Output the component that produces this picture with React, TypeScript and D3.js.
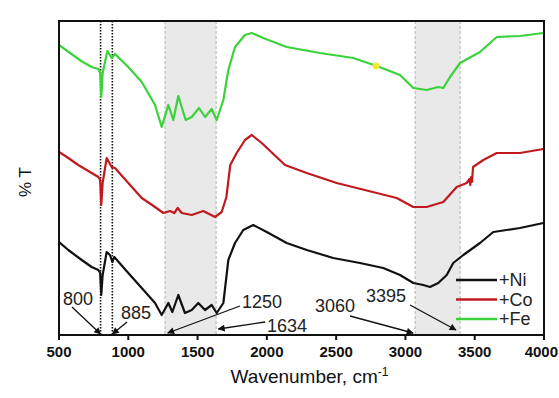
import React from "react";
import * as d3 from "d3";

// FTIR spectra (wavenumber, relative transmittance in arbitrary offset units)
const niSpectrum: [number, number][] = [
  [500, 93], [567, 85], [664, 75], [736, 68], [784, 65], [797, 62], [805, 40], [815, 60],
  [844, 83], [868, 80], [885, 73], [899, 78], [1000, 62], [1097, 47], [1193, 32], [1241, 20],
  [1289, 32], [1318, 23], [1361, 40], [1409, 22], [1458, 25], [1505, 32], [1554, 25],
  [1602, 30], [1638, 22], [1686, 32], [1697, 45], [1722, 75], [1770, 92], [1830, 105],
  [1902, 110], [1999, 103], [2143, 92], [2288, 85], [2479, 77], [2672, 72], [2840, 67],
  [2961, 60], [3057, 52], [3129, 50], [3177, 48], [3237, 52], [3298, 60], [3345, 72],
  [3418, 80], [3538, 92], [3634, 103], [3827, 107], [3995, 112],
];
const coSpectrum: [number, number][] = [
  [500, 183], [567, 177], [639, 170], [736, 162], [784, 158], [797, 155], [805, 130], [815, 152],
  [844, 177], [880, 168], [904, 167], [1000, 152], [1097, 137], [1193, 128], [1253, 122],
  [1301, 124], [1332, 122], [1357, 127], [1385, 122], [1458, 120], [1541, 124], [1626, 118],
  [1674, 123], [1708, 138], [1736, 170], [1782, 182], [1842, 195], [1891, 200], [1963, 192],
  [2131, 170], [2288, 162], [2504, 152], [2793, 142], [2937, 137], [3057, 128], [3153, 128],
  [3273, 133], [3370, 148], [3442, 152], [3462, 156], [3468, 150], [3474, 158], [3480, 153],
  [3488, 168], [3562, 175], [3659, 182], [3827, 182], [3995, 186],
];
const feSpectrum: [number, number][] = [
  [500, 290], [580, 282], [660, 274], [736, 268], [784, 266], [797, 262], [805, 238], [815, 262],
  [849, 284], [880, 277], [904, 281], [1000, 268], [1097, 253], [1193, 230], [1241, 208],
  [1289, 230], [1325, 215], [1361, 239], [1414, 215], [1458, 218], [1510, 227], [1554, 218],
  [1602, 226], [1638, 215], [1686, 235], [1722, 265], [1770, 288], [1842, 300], [1891, 302],
  [1974, 297], [2143, 288], [2383, 282], [2624, 277], [2793, 269], [2961, 260], [3057, 247],
  [3153, 245], [3237, 248], [3273, 247], [3322, 258], [3394, 272], [3538, 283], [3659, 298],
  [3827, 299], [3995, 302],
];

const seriesNames = ["+Ni", "+Co", "+Fe"];
const seriesColors = ["#111111", "#c01a1f", "#3bd23b"];
const seriesData = [niSpectrum, coSpectrum, feSpectrum];

const xTicks = [500, 1000, 1500, 2000, 2500, 3000, 3500, 4000];
const shadedBands: [number, number][] = [[1265, 1634], [3070, 3395]];
const dottedLines = [800, 885];
const highlightPoint: [number, number] = [2787, 269];

// Peak labels: label text, text anchor (wn, value), arrow start, arrow tip
const peakLabels = ["800", "885", "1250", "1634", "3060", "3395"];
const peakTextPos: [number, number][] = [[637, 36], [1056, 22], [1965, 33], [2146, 9], [2492, 29], [2860, 39]];
const peakArrowFrom: [number, number][] = [[594, 28], [991, 13], [1806, 29], [1987, 13], [2600, 19], [3033, 30]];
const peakArrowTo: [number, number][] = [[800, 1], [885, 1], [1285, 2], [1650, 6], [3055, 2], [3365, 5]];

const W = 559;
const H = 398;
const M = { left: 59, right: 544, top: 21, bottom: 335 };

export default function App() {
  const x = d3.scaleLinear().domain([500, 4000]).range([M.left, M.right]);
  const y = d3.scaleLinear().domain([0, 314]).range([M.bottom, M.top]);
  const line = d3
    .line<[number, number]>()
    .x((d) => x(d[0]))
    .y((d) => y(d[1]))
    .curve(d3.curveLinear);

  const font = "Arial, 'Liberation Sans', Helvetica, sans-serif";

  return (
    <svg
      width={W}
      height={H}
      style={{ position: "absolute", left: 0, top: 0, background: "#fff" }}
      fontFamily={font}
    >
      <defs>
        <marker id="arrowHead" viewBox="0 0 10 10" refX="9" refY="5" markerWidth="9" markerHeight="7" orient="auto" markerUnits="userSpaceOnUse">
          <path d="M0,0 L10,5 L0,10 z" fill="#111" />
        </marker>
        <clipPath id="plotClip">
          <rect x={M.left} y={M.top} width={M.right - M.left} height={M.bottom - M.top} />
        </clipPath>
      </defs>

      {/* shaded absorption regions */}
      {shadedBands.map(([a, b], i) => (
        <g key={`band${i}`}>
          <rect x={x(a)} y={M.top} width={x(b) - x(a)} height={M.bottom - M.top} fill="#e9e9e9" />
          <line x1={x(a)} x2={x(a)} y1={M.top} y2={M.bottom} stroke="#b5b5b5" strokeWidth={1} strokeDasharray="3,2" />
          <line x1={x(b)} x2={x(b)} y1={M.top} y2={M.bottom} stroke="#b5b5b5" strokeWidth={1} strokeDasharray="3,2" />
        </g>
      ))}

      {/* dotted reference lines */}
      {dottedLines.map((wn) => (
        <line key={`dot${wn}`} x1={x(wn)} x2={x(wn)} y1={M.top} y2={M.bottom} stroke="#111" strokeWidth={1.6} strokeDasharray="1.5,1.5" />
      ))}

      {/* spectra */}
      <g clipPath="url(#plotClip)">
        {seriesData.map((d, i) => (
          <path key={seriesNames[i]} d={line(d) ?? ""} fill="none" stroke={seriesColors[i]} strokeWidth={2.2} strokeLinejoin="round" />
        ))}
      </g>
      <circle cx={x(highlightPoint[0])} cy={y(highlightPoint[1])} r={3.5} fill="#f2e93a" />

      {/* frame */}
      <rect x={M.left} y={M.top} width={M.right - M.left} height={M.bottom - M.top} fill="none" stroke="#111" strokeWidth={2} />

      {/* x axis ticks */}
      {xTicks.map((t, i) => (
        <g key={`t${t}`}>
          <line x1={x(t)} x2={x(t)} y1={M.bottom} y2={M.bottom + 5} stroke="#111" strokeWidth={2} />
          <text
            x={i === xTicks.length - 1 ? W - 1 : x(t)}
            y={M.bottom + 22}
            textAnchor={i === xTicks.length - 1 ? "end" : "middle"}
            fontSize={15}
            fontWeight="bold"
            fill="#111"
          >
            {t}
          </text>
        </g>
      ))}

      {/* axis titles */}
      <text x={(M.left + M.right) / 2 + 8} y={383} textAnchor="middle" fontSize={19} fill="#111">
        Wavenumber, cm
        <tspan dy={-7} fontSize={12}>-1</tspan>
      </text>
      <text transform={`translate(31,${182}) rotate(-90)`} textAnchor="middle" fontSize={17} fill="#111">
        % T
      </text>

      {/* peak annotations */}
      {peakLabels.map((lab, i) => (
        <g key={`lab${lab}`}>
          <text x={x(peakTextPos[i][0])} y={y(peakTextPos[i][1])} dy="0.35em" textAnchor="middle" fontSize={18} fill="#222">
            {lab}
          </text>
          <line
            x1={x(peakArrowFrom[i][0])}
            y1={y(peakArrowFrom[i][1])}
            x2={x(peakArrowTo[i][0])}
            y2={y(peakArrowTo[i][1])}
            stroke="#111"
            strokeWidth={1.3}
            markerEnd="url(#arrowHead)"
          />
        </g>
      ))}

      {/* legend */}
      {seriesNames.map((name, i) => (
        <g key={`leg${name}`} transform={`translate(456,${280 + i * 19.5})`}>
          <line x1={0} x2={41} y1={0} y2={0} stroke={seriesColors[i]} strokeWidth={2.5} />
          <text x={43} y={0} dy="0.35em" fontSize={18} fill="#222">
            {name}
          </text>
        </g>
      ))}
    </svg>
  );
}
